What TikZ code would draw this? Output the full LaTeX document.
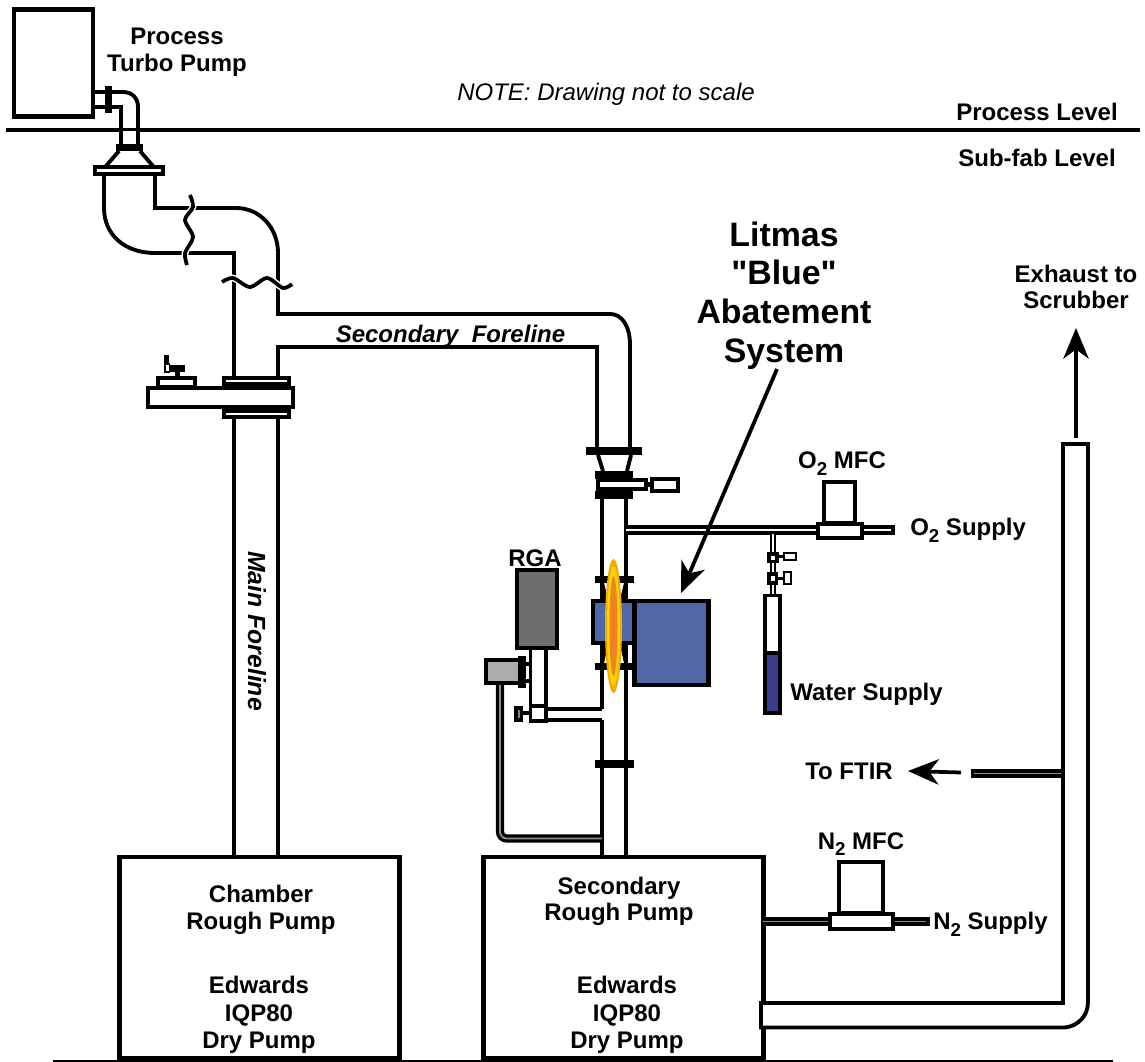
\documentclass[tikz,border=0pt]{standalone}
\usepackage{fontspec}
\setmainfont{Liberation Sans}[Ligatures=TeXOff]
\usetikzlibrary{arrows.meta, positioning, calc}
\usepackage{xcolor}
\definecolor{rfblue}{RGB}{80, 104, 168}
\definecolor{waterblue}{RGB}{60, 60, 140}
\definecolor{rgagray}{RGB}{110, 110, 110}
\definecolor{gaugegray}{RGB}{172, 172, 172}
\definecolor{flamegold}{RGB}{245, 170, 0}
\definecolor{flameyellow}{RGB}{250, 210, 0}
\definecolor{flameorange}{RGB}{240, 130, 35}
\newcommand{\subtwo}{\raisebox{-0.28em}{\fontsize{14}{14}\selectfont 2}}
\tikzset{
  bbox/.style={
    rectangle, draw=black, fill=white, line width=3.2pt,
    inner sep=0pt, outer sep=0pt
  },
  lab/.style={
    font=\fontsize{18}{20}\selectfont\bfseries, align=center,
    inner sep=0pt
  },
  lablow/.style={
    font=\fontsize{18}{20.6}\selectfont\bfseries, align=center,
    inner sep=0pt
  },
  labit/.style={
    font=\fontsize{18}{20}\selectfont\bfseries\itshape,
    inner sep=0pt
  },
  biglab/.style={
    font=\fontsize{25.4}{29}\selectfont\bfseries, align=center,
    inner sep=0pt
  },
  pipe/.style={line width=2.9pt, color=black},
  flange/.style={draw=black, fill=white, line width=2.8pt},
  bflange/.style={draw=black, fill=black, line width=1pt},
  tube/.style={draw=black, line width=2.6pt, double=white, double distance=1.8pt},
  gtube/.style={draw=black, line width=2.4pt, double=gray!90, double distance=1.4pt},
  ttube/.style={draw=black, line width=1.7pt, double=white, double distance=1.4pt},
  wave/.style={line width=2.8pt, preaction={draw=white, line width=5pt}},
  arr/.style={-{Stealth[length=23pt, width=19pt, inset=7pt]}, line width=2.8pt},
}
\begin{document}
\begin{tikzpicture}[x=0.75pt, y=-0.75pt]
  \useasboundingbox (0,0) rectangle (1145,1062);
  % floor lines
  \draw[line width=3pt] (6,130.5)--(1140,130.5);
  \draw[line width=1.5pt] (53,1061)--(1113,1061);
  % boxes
  \node[bbox, minimum width=59.25pt, minimum height=80.25pt] (turbo) at (53.5,63) {};
  \node[bbox, minimum width=210pt, minimum height=150.75pt] (chamber) at (259.5,957.5) {};
  \node[bbox, minimum width=210pt, minimum height=150.75pt] (secondary) at (623.5,957.5) {};
  % turbo outlet and elbow
  \fill[white] (121,131)rectangle(138,145);
  \draw[pipe] (93,92)--(123,92) .. controls (132,92) and (138,98) .. (138,107)--(138,145);
  \draw[pipe] (93,107)--(121,107)--(121,145);
  \draw[bflange] (105.5,87)rectangle(111,112);
  \draw[bflange] (117,144.5)rectangle(142,150.5);
  \draw[pipe] (119,151)--(106,166);
  \draw[pipe] (140,151)--(153,166);
  \draw[flange] (95,167)rectangle(163,174);
  % main foreline
  \draw[pipe] (104,175)--(104,208) .. controls (104,235) and (125,253) .. (155,253)--(234,253)--(234,857);
  \draw[pipe] (155,175)--(155,208)--(236,208) .. controls (260,208) and (278,228) .. (278,253)--(278,314)--(610,314)
    .. controls (622,314) and (630,326) .. (630,345)--(630,448);
  \draw[pipe] (278,857)--(278,347)--(597,347)--(597,448);
  \draw[wave] plot[smooth] coordinates {(190,195) (193,207) (185,220) (193,237) (185,253) (187,265)};
  \draw[wave] plot[smooth] coordinates {(222,282) (233,278) (250,287) (267,278) (283,288) (292,284)};
  % isolation valve
  \draw[flange] (224,378)rectangle(289,384);
  \draw[flange] (224,411)rectangle(289,417);
  \draw[pipe, fill=white] (148,388)rectangle(293,407);
  \draw[flange] (158,378)rectangle(195,387);
  \fill (170,365)rectangle(185,372);
  \fill (175,372)rectangle(180,378);
  \fill (164,355)rectangle(169,364);
  \draw[line width=1pt] (165,364)rectangle(169.5,372);
  % secondary line, lower part
  \draw[bflange] (587,447.5)rectangle(641,454.5);
  \draw[pipe] (598,455)--(603,471);
  \draw[pipe] (631,455)--(627,471);
  \draw[bflange] (596,471.5)rectangle(632,478);
  \draw[flange] (598,480)rectangle(646,489);
  \draw[bflange] (596,491.5)rectangle(632,498);
  \fill (646,482)rectangle(652,487);
  \draw[flange] (652,479)rectangle(678,491);
  \draw[pipe] (602,498)--(602,709);
  \draw[pipe] (602,720)--(602,857);
  \draw[pipe] (626,498)--(626,857);
  % oxygen line
  \draw[tube] (626,530)--(893,530);
  \fill (891,525)rectangle(895,535);
  \node[bbox, minimum width=23.25pt, minimum height=30.75pt] (o2mfc) at (839.5,502.5) {};
  \draw[flange] (818,524)rectangle(862,538);
  % water supply
  \draw[ttube] (773,534)--(773,596);
  \fill (767,552)rectangle(779,563);
  \fill[white] (771,556)rectangle(775,560);
  \fill (779,555)rectangle(784,558);
  \draw[flange, line width=2pt] (784,553)rectangle(796,560);
  \fill (767,572)rectangle(778,585);
  \fill[white] (771,576)rectangle(775,581);
  \fill (778,577)rectangle(784,580);
  \draw[flange, line width=2pt] (784,572)rectangle(791,584);
  \draw[pipe, fill=white] (765,595.5)rectangle(780,653);
  \draw[pipe, fill=waterblue] (765,653)rectangle(780,713);
  % abatement system
  \draw[flange, fill=rfblue] (593,601)rectangle(634,643);
  \node[bbox, fill=rfblue, minimum width=55.5pt, minimum height=63pt] (litmas) at (671.5,643) {};
  \draw[bflange] (596,577)rectangle(633,582);
  \draw[bflange] (596,664)rectangle(633,669);
  \draw[pipe] (602,583)--(606,599);
  \draw[pipe] (626,583)--(622,599);
  \draw[pipe] (606,645)--(602,663);
  \draw[pipe] (622,645)--(626,663);
  \draw[bflange] (596,761)rectangle(633,767);
  \fill[flamegold] (613.5,626) ellipse (8.5 and 67);
  \fill[flameyellow] (613.5,626) ellipse (6.5 and 60);
  \fill[flameorange] (613.5,626) ellipse (4 and 50);
  % rga
  \draw[pipe, fill=white] (530.5,648)--(530.5,721)--(546,721)--(546,648);
  \draw[pipe] (530.5,706)--(546,706);
  \draw[pipe] (546,709)--(602,709);
  \draw[pipe] (546,720)--(602,720);
  \node[bbox, fill=rgagray, minimum width=30pt, minimum height=58.5pt] (rga) at (537,609) {};
  \draw[gtube, rounded corners=5] (500,683)--(500,838.5)--(602,838.5);
  \node[bbox, fill=gaugegray, line width=2.8pt, minimum width=25.5pt, minimum height=17.25pt] (gauge) at (503,671.5) {};
  \fill (518,656)rectangle(526,688);
  \fill (526,662)rectangle(530,666);
  \fill (526,679)rectangle(530,683);
  \fill (514,706)rectangle(523,722);
  \fill[gray] (518,710)rectangle(520,718);
  \fill (523,711)rectangle(530,715);
  % nitrogen line and exhaust
  \draw[gtube] (763,921.5)--(929,921.5);
  \fill (926,917)rectangle(930,926);
  \node[bbox, minimum width=33pt, minimum height=38.25pt] (n2mfc) at (861,887.5) {};
  \draw[flange] (830,914)rectangle(893,929);
  \draw[gtube] (972,773.5)--(1063,773.5);
  \fill (971,769)rectangle(974,778);
  \draw[pipe, fill=white] (761,1003)--(1063,1003)--(1063,444)--(1088,444)--(1088,1002)
    .. controls (1088,1016) and (1078,1026) .. (1065,1027.5)--(761,1027.5)--cycle;
  % arrows
  \coordinate (ftirfrom) at (961,772.5);
  \coordinate (ftirto) at (908,771);
  \coordinate (exhfrom) at (1076,438);
  \coordinate (exhto) at (1076,328);
  \coordinate (litfrom) at (777,369);
  \coordinate (litto) at (681,593);
  \draw[arr] (ftirfrom)--(ftirto);
  \draw[arr] (exhfrom)--(exhto);
  \draw[arr] (litfrom)--(litto);
  % labels
  \node[lab] (turbolab) at (177,52) {Process\\Turbo Pump};
  \node[font=\fontsize{18}{20}\selectfont\itshape, inner sep=0pt] (note) at (606,94) {NOTE: Drawing not to scale};
  \node[lab, anchor=east] (proclev) at (1118,112) {Process Level};
  \node[lab, anchor=east] (subfab) at (1116,158) {Sub-fab Level};
  \node[biglab] (system) at (784,295.5) {Litmas\\"Blue"\\Abatement\\System};
  \node[lab] (scrub) at (1076,287) {Exhaust to\\Scrubber};
  \node[labit] (secfore) at (450.5,336) {Secondary\ \ Foreline};
  \node[labit, font=\fontsize{18.6}{20}\selectfont\bfseries\itshape, rotate=-90] (mainfore) at (257,631) {Main Foreline};
  \node[lab] (rgalab) at (535,558) {RGA};
  \node[lab] (o2lab) at (842,463.5) {O\subtwo{} MFC};
  \node[lab, anchor=west] (o2sup) at (910,530.5) {O\subtwo{} Supply};
  \node[lab, anchor=west] (water) at (790,694) {Water Supply};
  \node[lab, anchor=west] (ftir) at (805,771) {To FTIR};
  \node[lab] (n2lab) at (861,844) {N\subtwo{} MFC};
  \node[lab, anchor=west] (n2sup) at (933,924.5) {N\subtwo{} Supply};
  \node[lab] (chamberlab) at (261,910) {Chamber\\Rough Pump};
  \node[lablow] (chamberdry) at (259,1015) {Edwards\\IQP80\\Dry Pump};
  \node[lab] (seclab) at (619,901.5) {Secondary\\Rough Pump};
  \node[lablow] (secdry) at (627,1015) {Edwards\\IQP80\\Dry Pump};
\end{tikzpicture}
\end{document}
